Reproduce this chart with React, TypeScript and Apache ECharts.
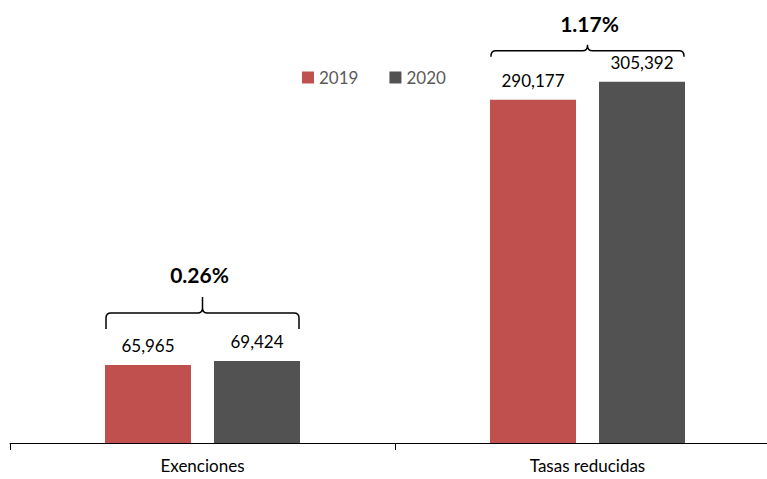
import React, { useEffect, useRef } from "react";
import * as echarts from "echarts";

const categories = ["Exenciones", "Tasas reducidas"];
const seriesNames = ["2019", "2020"];
const values2019 = [65965, 290177];
const values2020 = [69424, 305392];
const changeLabels = ["0.26%", "1.17%"];

const FONT = "Lato, 'Open Sans', sans-serif";

const Brace = echarts.graphic.extendShape({
  shape: { x1: 0, x2: 0, y: 0, h: 10, t: 8, r: 5 },
  buildPath(ctx: any, s: any) {
    const m = (s.x1 + s.x2) / 2;
    const r = Math.min(s.r, s.h, s.t);
    ctx.moveTo(s.x1, s.y + s.h);
    ctx.lineTo(s.x1, s.y + r);
    ctx.quadraticCurveTo(s.x1, s.y, s.x1 + r, s.y);
    ctx.lineTo(m - r, s.y);
    ctx.quadraticCurveTo(m, s.y, m, s.y - r);
    ctx.lineTo(m, s.y - s.t);
    ctx.moveTo(m, s.y - r);
    ctx.quadraticCurveTo(m, s.y, m + r, s.y);
    ctx.lineTo(s.x2 - r, s.y);
    ctx.quadraticCurveTo(s.x2, s.y, s.x2, s.y + r);
    ctx.lineTo(s.x2, s.y + s.h);
  },
});
echarts.graphic.registerShape("brace", Brace);

export default function App() {
  const ref = useRef<HTMLDivElement>(null);
  useEffect(() => {
    if (!ref.current) return;
    const chart = echarts.init(ref.current, null, { renderer: "svg" });
    const barWidth = 86;
    const gap = 23;
    const labelCommon = {
      show: true,
      position: "top" as const,
      distance: 11,
      fontSize: 17,
      color: "#000",
      fontFamily: FONT,
      formatter: (p: any) => Number(p.value).toLocaleString("en-US"),
    };
    chart.setOption({
      animation: false,
      backgroundColor: "#fff",
      grid: { left: 10, right: 10, top: 29, bottom: 36 },
      legend: {
        data: seriesNames,
        left: 297,
        top: 64,
        icon: "rect",
        itemWidth: 12,
        itemHeight: 12,
        itemGap: 31,
        textStyle: { fontSize: 17, color: "#595959", fontFamily: FONT },
      },
      xAxis: {
        type: "category",
        data: categories,
        axisLine: { lineStyle: { color: "#000", width: 1 } },
        axisTick: { show: true, length: 7, lineStyle: { color: "#000" } },
        axisLabel: { margin: 14, fontSize: 17, color: "#000", fontFamily: FONT },
      },
      yAxis: {
        type: "value",
        min: 0,
        max: 350000,
        show: false,
        splitLine: { show: false },
      },
      series: [
        {
          name: seriesNames[0],
          type: "bar",
          data: values2019,
          barWidth,
          barGap: (gap / barWidth) * 100 + "%",
          itemStyle: { color: "#C0504D" },
          label: labelCommon,
        },
        {
          name: seriesNames[1],
          type: "bar",
          data: values2020,
          barWidth,
          barGap: (gap / barWidth) * 100 + "%",
          itemStyle: { color: "#525252" },
          label: labelCommon,
        },
      ],
    });

    const braceStyle = [
      { above: 48, h: 16, t: 16, textAbove: 38, dx: -3 },
      { above: 31, h: 6, t: 6, textAbove: 27, dx: 2 },
    ];
    const graphics: any[] = [];
    categories.forEach((c, i) => {
      const cx = chart.convertToPixel({ xAxisIndex: 0 }, c) as number;
      const maxVal = Math.max(values2019[i], values2020[i]);
      const top = chart.convertToPixel({ yAxisIndex: 0 }, maxVal) as number;
      const st = braceStyle[i];
      const half = barWidth + gap / 2 - 1;
      const y = top - st.above;
      graphics.push({
        type: "brace",
        shape: { x1: cx - half, x2: cx + half, y, h: st.h, t: st.t, r: 5 },
        style: { stroke: "#000", lineWidth: 1.5, fill: "none" },
      });
      graphics.push({
        type: "text",
        x: cx + st.dx,
        y: y - st.textAbove,
        style: {
          text: changeLabels[i],
          fontSize: 21,
          fontWeight: "bold",
          fontFamily: FONT,
          fill: "#000",
          align: "center",
          verticalAlign: "middle",
        },
      });
    });
    chart.setOption({ graphic: graphics });

    return () => chart.dispose();
  }, []);
  return (
    <div
      style={{
        position: "absolute",
        left: 0,
        top: 0,
        width: 767,
        height: 479,
        overflow: "hidden",
        background: "#fff",
      }}
    >
      <div ref={ref} style={{ width: 790, height: 479 }} />
    </div>
  );
}
